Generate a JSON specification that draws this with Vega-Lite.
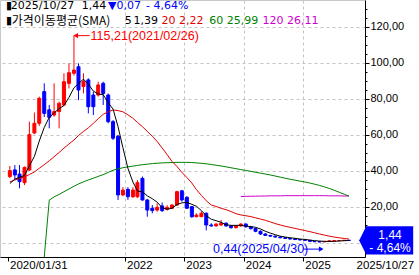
{
  "$schema": "https://vega.github.io/schema/vega-lite/v6.json",
  "width": 365,
  "height": 257,
  "autosize": "none",
  "padding": {"left": 0, "top": 0, "right": 54, "bottom": 18},
  "background": "white",
  "config": {"view": {"stroke": "#c8c8c8", "strokeWidth": 1}},
  "datasets": {
    "bars": [
      {"d":"2020-01-01","o":36.9,"h":42.8,"l":36.0,"c":40.2,"m5":33,"m20":34},
      {"d":"2020-02-01","o":40.6,"h":43.3,"l":35.0,"c":37.8,"m5":35.5,"m20":35},
      {"d":"2020-03-01","o":38.3,"h":43.3,"l":30.4,"c":34.1,"m5":36.5,"m20":35.8},
      {"d":"2020-04-01","o":33.5,"h":42.5,"l":32.2,"c":42.0,"m5":37.5,"m20":36.8},
      {"d":"2020-05-01","o":40.6,"h":67.4,"l":40.0,"c":60.2,"m5":42.9,"m20":38},
      {"d":"2020-06-01","o":61.1,"h":72.5,"l":60.5,"c":66.5,"m5":48.1,"m20":39.5},
      {"d":"2020-07-01","o":66.5,"h":81.3,"l":65.0,"c":80.4,"m5":56.6,"m20":41.5},
      {"d":"2020-08-01","o":84.1,"h":88.7,"l":70.0,"c":72.0,"m5":64.2,"m20":43.5,"m60":-7.8},
      {"d":"2020-09-01","o":74.0,"h":76.7,"l":63.7,"c":69.8,"m5":69.8,"m20":45.7,"m60":23.8},
      {"d":"2020-10-01","o":71.1,"h":88.7,"l":70.2,"c":73.0,"m5":72.3,"m20":47.9,"m60":25.6},
      {"d":"2020-11-01","o":73.0,"h":78.5,"l":63.7,"c":77.6,"m5":74.6,"m20":50.3,"m60":27.0},
      {"d":"2020-12-01","o":76.7,"h":94.3,"l":76.0,"c":89.6,"m5":76.4,"m20":52.7,"m60":28.5},
      {"d":"2021-01-01","o":88.7,"h":99.8,"l":85.9,"c":94.6,"m5":80.9,"m20":55,"m60":30.0},
      {"d":"2021-02-01","o":94.3,"h":115.21,"l":93.0,"c":96.1,"m5":86.2,"m20":57.2,"m60":31.5},
      {"d":"2021-03-01","o":97.9,"h":99.8,"l":79.4,"c":85.0,"m5":88.6,"m20":59.7,"m60":32.8},
      {"d":"2021-04-01","o":86.9,"h":94.3,"l":83.1,"c":89.6,"m5":91.0,"m20":62,"m60":34.0},
      {"d":"2021-05-01","o":90.6,"h":91.5,"l":72.0,"c":75.7,"m5":88.2,"m20":64,"m60":35.0},
      {"d":"2021-06-01","o":82.2,"h":84.1,"l":71.1,"c":75.7,"m5":84.4,"m20":66.5,"m60":36.0},
      {"d":"2021-07-01","o":82.2,"h":89.6,"l":81.3,"c":87.8,"m5":82.8,"m20":69,"m60":37.0},
      {"d":"2021-08-01","o":88.7,"h":89.6,"l":76.7,"c":83.1,"m5":82.4,"m20":71.5,"m60":38.0},
      {"d":"2021-09-01","o":82.2,"h":83.1,"l":66.5,"c":67.4,"m5":77.9,"m20":72.9,"m60":39.2},
      {"d":"2021-10-01","o":67.4,"h":68.3,"l":57.2,"c":58.2,"m5":74.4,"m20":73.9,"m60":40.4},
      {"d":"2021-11-01","o":59.3,"h":60.0,"l":23.9,"c":26.7,"m5":64.6,"m20":73.55,"m60":41.2},
      {"d":"2021-12-01","o":26.7,"h":31.0,"l":26.0,"c":29.4,"m5":53.0,"m20":72.9,"m60":41.8},
      {"d":"2022-01-01","o":29.8,"h":31.0,"l":24.0,"c":25.7,"m5":41.5,"m20":71.2,"m60":42.3},
      {"d":"2022-02-01","o":25.7,"h":31.0,"l":25.0,"c":29.4,"m5":33.9,"m20":69.3,"m60":42.7},
      {"d":"2022-03-01","o":25.7,"h":35.0,"l":25.0,"c":33.5,"m5":28.9,"m20":67.0,"m60":43.1},
      {"d":"2022-04-01","o":35.9,"h":36.9,"l":23.5,"c":23.9,"m5":28.4,"m20":64.6,"m60":43.5},
      {"d":"2022-05-01","o":23.9,"h":24.5,"l":14.6,"c":18.3,"m5":26.2,"m20":62.0,"m60":43.8},
      {"d":"2022-06-01","o":19.3,"h":21.1,"l":16.5,"c":18.0,"m5":24.6,"m20":59.3,"m60":44.1},
      {"d":"2022-07-01","o":18.3,"h":22.0,"l":17.4,"c":19.8,"m5":22.7,"m20":56.4,"m60":44.3},
      {"d":"2022-08-01","o":20.6,"h":22.5,"l":17.2,"c":18.0,"m5":19.6,"m20":52.8,"m60":44.5},
      {"d":"2022-09-01","o":18.7,"h":21.0,"l":18.0,"c":19.8,"m5":18.8,"m20":49.1,"m60":44.6},
      {"d":"2022-10-01","o":19.3,"h":21.5,"l":19.0,"c":21.1,"m5":19.3,"m20":45.3,"m60":44.7},
      {"d":"2022-11-01","o":21.1,"h":29.0,"l":20.5,"c":28.5,"m5":21.4,"m20":42.5,"m60":44.8},
      {"d":"2022-12-01","o":29.0,"h":29.5,"l":23.0,"c":23.9,"m5":22.3,"m20":39.2,"m60":44.8},
      {"d":"2023-01-01","o":25.4,"h":26.0,"l":19.0,"c":19.3,"m5":22.5,"m20":36.4,"m60":44.8},
      {"d":"2023-02-01","o":20.2,"h":20.5,"l":14.0,"c":14.6,"m5":21.5,"m20":33.3,"m60":44.7},
      {"d":"2023-03-01","o":14.6,"h":16.5,"l":14.3,"c":15.5,"m5":20.4,"m20":29.7,"m60":44.5},
      {"d":"2023-04-01","o":14.6,"h":17.6,"l":14.5,"c":16.5,"m5":18.0,"m20":26.4,"m60":44.3},
      {"d":"2023-05-01","o":16.5,"h":17.0,"l":7.0,"c":10.0,"m5":15.2,"m20":23.5,"m60":44.0},
      {"d":"2023-06-01","o":10.0,"h":11.0,"l":9.0,"c":9.5,"m5":13.2,"m20":21.1,"m60":43.6},
      {"d":"2023-07-01","o":9.5,"h":11.0,"l":9.0,"c":10.5,"m5":12.4,"m20":20.3,"m60":43.2},
      {"d":"2023-08-01","o":10.0,"h":12.8,"l":9.5,"c":11.0,"m5":11.5,"m20":19.3,"m60":42.8},
      {"d":"2023-09-01","o":11.0,"h":11.5,"l":9.0,"c":9.5,"m5":10.1,"m20":18.5,"m60":42.3},
      {"d":"2023-10-01","o":9.5,"h":10.0,"l":8.0,"c":8.5,"m5":9.8,"m20":17.5,"m60":41.8},
      {"d":"2023-11-01","o":8.5,"h":10.0,"l":8.0,"c":9.5,"m5":9.8,"m20":16.3,"m60":41.3},
      {"d":"2023-12-01","o":9.5,"h":11.0,"l":9.0,"c":10.5,"m5":9.8,"m20":15.6,"m60":40.8,"m120":25.8},
      {"d":"2024-01-01","o":10.5,"h":11.0,"l":8.5,"c":9.0,"m5":9.4,"m20":15.15,"m60":40.3,"m120":25.9},
      {"d":"2024-02-01","o":9.0,"h":9.5,"l":7.5,"c":8.0,"m5":9.1,"m20":14.65,"m60":39.8,"m120":26.0},
      {"d":"2024-03-01","o":8.0,"h":8.5,"l":6.0,"c":6.5,"m5":8.7,"m20":14.0,"m60":39.3,"m120":26.0},
      {"d":"2024-04-01","o":6.5,"h":7.0,"l":4.5,"c":5.0,"m5":7.8,"m20":13.3,"m60":38.8,"m120":26.1},
      {"d":"2024-05-01","o":5.0,"h":5.5,"l":4.0,"c":4.2,"m5":6.5,"m20":12.6,"m60":38.3,"m120":26.1},
      {"d":"2024-06-01","o":4.2,"h":4.5,"l":3.5,"c":3.8,"m5":5.5,"m20":11.7,"m60":37.8,"m120":26.2},
      {"d":"2024-07-01","o":3.8,"h":4.2,"l":3.0,"c":3.3,"m5":4.6,"m20":10.8,"m60":37.2,"m120":26.2},
      {"d":"2024-08-01","o":3.3,"h":3.8,"l":2.7,"c":2.9,"m5":3.8,"m20":10.0,"m60":36.6,"m120":26.2},
      {"d":"2024-09-01","o":2.9,"h":3.3,"l":2.3,"c":2.5,"m5":3.3,"m20":9.3,"m60":36.0,"m120":26.3},
      {"d":"2024-10-01","o":2.5,"h":2.9,"l":2.0,"c":2.2,"m5":2.9,"m20":8.7,"m60":35.4,"m120":26.3},
      {"d":"2024-11-01","o":2.2,"h":2.5,"l":1.8,"c":1.9,"m5":2.6,"m20":8.1,"m60":34.9,"m120":26.3},
      {"d":"2024-12-01","o":1.9,"h":2.2,"l":1.5,"c":1.7,"m5":2.2,"m20":7.5,"m60":34.4,"m120":26.3},
      {"d":"2025-01-01","o":1.7,"h":1.9,"l":1.3,"c":1.5,"m5":2.0,"m20":6.9,"m60":33.9,"m120":26.3},
      {"d":"2025-02-01","o":1.5,"h":1.6,"l":0.8,"c":0.9,"m5":1.6,"m20":6.3,"m60":33.3,"m120":26.3},
      {"d":"2025-03-01","o":0.9,"h":1.0,"l":0.6,"c":0.7,"m5":1.3,"m20":5.7,"m60":32.7,"m120":26.3},
      {"d":"2025-04-01","o":0.7,"h":0.9,"l":0.44,"c":0.6,"m5":1.1,"m20":5.0,"m60":32.0,"m120":26.3},
      {"d":"2025-05-01","o":0.6,"h":1.1,"l":0.55,"c":0.9,"m5":0.9,"m20":4.4,"m60":31.2,"m120":26.3},
      {"d":"2025-06-01","o":0.9,"h":1.4,"l":0.85,"c":1.2,"m5":0.9,"m20":3.8,"m60":30.3,"m120":26.2},
      {"d":"2025-07-01","o":1.2,"h":1.5,"l":1.1,"c":1.3,"m5":0.9,"m20":3.3,"m60":29.3,"m120":26.2},
      {"d":"2025-08-01","o":1.3,"h":1.6,"l":1.2,"c":1.4,"m5":1.1,"m20":2.9,"m60":28.2,"m120":26.2},
      {"d":"2025-09-01","o":1.4,"h":1.7,"l":1.3,"c":1.51,"m5":1.26,"m20":2.5,"m60":27.1,"m120":26.1},
      {"d":"2025-10-01","o":1.51,"h":1.6,"l":1.4,"c":1.44,"m5":1.39,"m20":2.22,"m60":25.99,"m120":26.11}
    ],
    "legend": [
      {"x":"2019-12-08","y":131.4,"t":"▮","k":"#000000"},
      {"x":"2020-01-07","y":131.4,"t":"2025/10/27","k":"#000000"},
      {"x":"2021-03-21","y":131.4,"t":"1,44","k":"#000000"},
      {"x":"2021-08-31","y":131.4,"t":"▼0,07","k":"#0000ff"},
      {"x":"2022-04-23","y":131.4,"t":"- 4,64%","k":"#0000ff"},
      {"x":"2019-12-08","y":123.3,"t":"▮","k":"#000000"},
      {"x":"2021-12-12","y":123.3,"t":"5","k":"#000000"},
      {"x":"2022-02-04","y":123.3,"t":"1,39","k":"#000000"},
      {"x":"2022-07-28","y":123.3,"t":"20 2,22","k":"#e00000"},
      {"x":"2023-05-19","y":123.3,"t":"60 25,99","k":"#008000"},
      {"x":"2024-04-14","y":123.3,"t":"120 26,11","k":"#d000d0"}
    ],
    "korean": [
      {"x":"2020-01-13","y":123.3,"t":"가격이동평균(SMA)"}
    ],
    "notes": [
      {"x":"2021-05-15","y":115.21,"t":"115,21(2021/02/26)","k":"#ff0000"},
      {"x":"2023-06-12","y":-3.4,"t":"0,44(2025/04/30)","k":"#0000ff"}
    ],
    "arrows": [
      {"x":"2021-02-01","x2":"2021-05-09","y":115.21,"k":"#ff0000"},
      {"x":"2024-12-24","x2":"2025-04-17","y":-3.4,"k":"#0000ff"}
    ],
    "heads": [
      {"x":"2021-02-12","y":115.21,"s":"triangle-left","k":"#ff0000"},
      {"x":"2025-04-12","y":-3.4,"s":"triangle-right","k":"#0000ff"}
    ],
    "tag": [
      {"x":"2026-05-19","tx":"2026-06-12","y":1.44,"t":"1,44|- 4,64%"}
    ]
  },
  "resolve": {"axis": {"x": "independent", "y": "independent"}},
  "layer": [
    {
      "data": {"name": "bars"},
      "mark": {"type": "rule", "strokeWidth": 1, "clip": true},
      "encoding": {
        "x": {"field": "d", "type": "temporal", "title": null,
          "scale": {"type": "utc", "domain": [{"year":2019,"month":12,"date":2,"utc":true},{"year":2025,"month":12,"date":8,"utc":true}]},
          "axis": {
            "orient": "bottom",
            "values": [{"year":2019,"month":12,"date":21,"utc":true},{"year":2021,"month":12,"date":14,"utc":true},{"year":2022,"month":12,"date":16,"utc":true},{"year":2023,"month":12,"date":20,"utc":true},{"year":2024,"month":12,"date":22,"utc":true},{"year":2025,"month":11,"date":4,"utc":true}],
            "labelExpr": "utcyear(datum.value) == 2019 ? '2020/01/31' : utcmonth(datum.value) == 10 ? '2025/10/27' : '' + (utcyear(datum.value) + 1)",
            "labelAlign": "left", "labelOffset": 1.5, "labelFlush": false, "labelOverlap": false, "labelBound": false,
            "labelBaseline": "top", "labelPadding": -2,
            "labelFont": "Liberation Sans", "labelFontSize": 11.5, "labelColor": "#000000",
            "tickSize": 4, "tickColor": "#000000",
            "tickOpacity": {"condition": {"test": "utcmonth(datum.value) == 10", "value": 0}, "value": 1},
            "domainColor": "#000000",
            "grid": true, "gridColor": "#c4c4c4", "gridDash": [3, 3],
            "gridOpacity": {"condition": {"test": "utcyear(datum.value) == 2019 || utcmonth(datum.value) == 10", "value": 0}, "value": 1}
          }},
        "y": {"field": "l", "type": "quantitative", "title": null,
          "scale": {"domain": [-7.78, 135], "nice": false, "zero": false},
          "axis": {
            "orient": "right",
            "values": [0, 20, 40, 60, 80, 100, 120],
            "labelExpr": "datum.value == 0 ? '' : replace(format(datum.value, '.2f'), '.', ',')",
            "labelFont": "Liberation Sans", "labelFontSize": 11, "labelColor": "#000000",
            "labelPadding": 1,
            "tickSize": 4, "tickColor": "#000000", "domainColor": "#000000",
            "grid": true, "gridColor": "#c4c4c4", "gridDash": [3, 3]
          }},
        "y2": {"field": "h"},
        "color": {"condition": {"test": "datum.c >= datum.o", "value": "#ff0000"}, "value": "#0000ff"}
      }
    },
    {
      "data": {"name": "bars"},
      "mark": {"type": "bar", "size": 3, "strokeWidth": 1, "clip": true},
      "encoding": {
        "x": {"field": "d", "type": "temporal", "axis": null},
        "y": {"field": "o", "type": "quantitative", "axis": null},
        "y2": {"field": "c"},
        "fill": {"condition": {"test": "datum.c >= datum.o", "value": "#ff0000"}, "value": "#0000ff"},
        "stroke": {"condition": {"test": "datum.c >= datum.o", "value": "#ff0000"}, "value": "#0000ff"}
      }
    },
    {
      "data": {"name": "bars"},
      "mark": {"type": "line", "strokeWidth": 1, "color": "#d000d0", "clip": true},
      "encoding": {
        "x": {"field": "d", "type": "temporal", "axis": null},
        "y": {"field": "m120", "type": "quantitative", "axis": null}
      }
    },
    {
      "data": {"name": "bars"},
      "mark": {"type": "line", "strokeWidth": 1, "color": "#008000", "clip": true},
      "encoding": {
        "x": {"field": "d", "type": "temporal", "axis": null},
        "y": {"field": "m60", "type": "quantitative", "axis": null}
      }
    },
    {
      "data": {"name": "bars"},
      "mark": {"type": "line", "strokeWidth": 1, "color": "#e00000", "clip": true},
      "encoding": {
        "x": {"field": "d", "type": "temporal", "axis": null},
        "y": {"field": "m20", "type": "quantitative", "axis": null}
      }
    },
    {
      "data": {"name": "bars"},
      "mark": {"type": "line", "strokeWidth": 1, "color": "#000000", "clip": true},
      "encoding": {
        "x": {"field": "d", "type": "temporal", "axis": null},
        "y": {"field": "m5", "type": "quantitative", "title": null,
          "axis": {
            "orient": "right",
            "values": [5, 10, 15, 25, 30, 35, 45, 50, 55, 65, 70, 75, 85, 90, 95, 105, 110, 115, 125, 130],
            "labels": false, "grid": false, "domain": false,
            "tickSize": 2, "tickColor": "#000000"
          }}
      }
    },
    {
      "data": {"name": "legend"},
      "mark": {"type": "text", "align": "left", "baseline": "middle", "font": "DejaVu Sans", "fontSize": 11},
      "encoding": {
        "x": {"field": "x", "type": "temporal", "axis": null},
        "y": {"field": "y", "type": "quantitative", "axis": null},
        "text": {"field": "t"},
        "color": {"field": "k", "type": "nominal", "scale": null}
      }
    },
    {
      "data": {"name": "korean"},
      "mark": {"type": "text", "align": "left", "baseline": "middle", "font": "Noto Sans CJK KR", "fontSize": 12, "color": "#000000"},
      "encoding": {
        "x": {"field": "x", "type": "temporal", "axis": null},
        "y": {"field": "y", "type": "quantitative", "axis": null},
        "text": {"field": "t"}
      }
    },
    {
      "data": {"name": "notes"},
      "mark": {"type": "text", "align": "left", "baseline": "middle", "font": "Liberation Sans", "fontSize": 12.5},
      "encoding": {
        "x": {"field": "x", "type": "temporal", "axis": null},
        "y": {"field": "y", "type": "quantitative", "axis": null},
        "text": {"field": "t"},
        "color": {"field": "k", "type": "nominal", "scale": null}
      }
    },
    {
      "data": {"name": "arrows"},
      "mark": {"type": "rule", "strokeWidth": 1},
      "encoding": {
        "x": {"field": "x", "type": "temporal", "axis": null},
        "x2": {"field": "x2"},
        "y": {"field": "y", "type": "quantitative", "axis": null},
        "color": {"field": "k", "type": "nominal", "scale": null}
      }
    },
    {
      "data": {"name": "heads"},
      "mark": {"type": "point", "filled": true, "size": 28, "opacity": 1},
      "encoding": {
        "x": {"field": "x", "type": "temporal", "axis": null},
        "y": {"field": "y", "type": "quantitative", "axis": null},
        "shape": {"field": "s", "type": "nominal", "scale": null},
        "color": {"field": "k", "type": "nominal", "scale": null}
      }
    },
    {
      "data": {"name": "tag"},
      "mark": {"type": "point", "filled": true, "size": 2916, "opacity": 1, "color": "#0000ff", "clip": false,
        "shape": "M-1,0L-0.74,-0.52L1,-0.52L1,0.52L-0.74,0.52Z"},
      "encoding": {
        "x": {"field": "x", "type": "temporal", "axis": null},
        "y": {"field": "y", "type": "quantitative", "axis": null}
      }
    },
    {
      "data": {"name": "tag"},
      "mark": {"type": "text", "align": "center", "baseline": "middle", "font": "Liberation Sans", "fontSize": 12, "lineBreak": "|", "lineHeight": 13, "color": "#ffffff", "clip": false, "dy": -5},
      "encoding": {
        "x": {"field": "tx", "type": "temporal", "axis": null},
        "y": {"field": "y", "type": "quantitative", "axis": null},
        "text": {"field": "t"}
      }
    }
  ]
}
